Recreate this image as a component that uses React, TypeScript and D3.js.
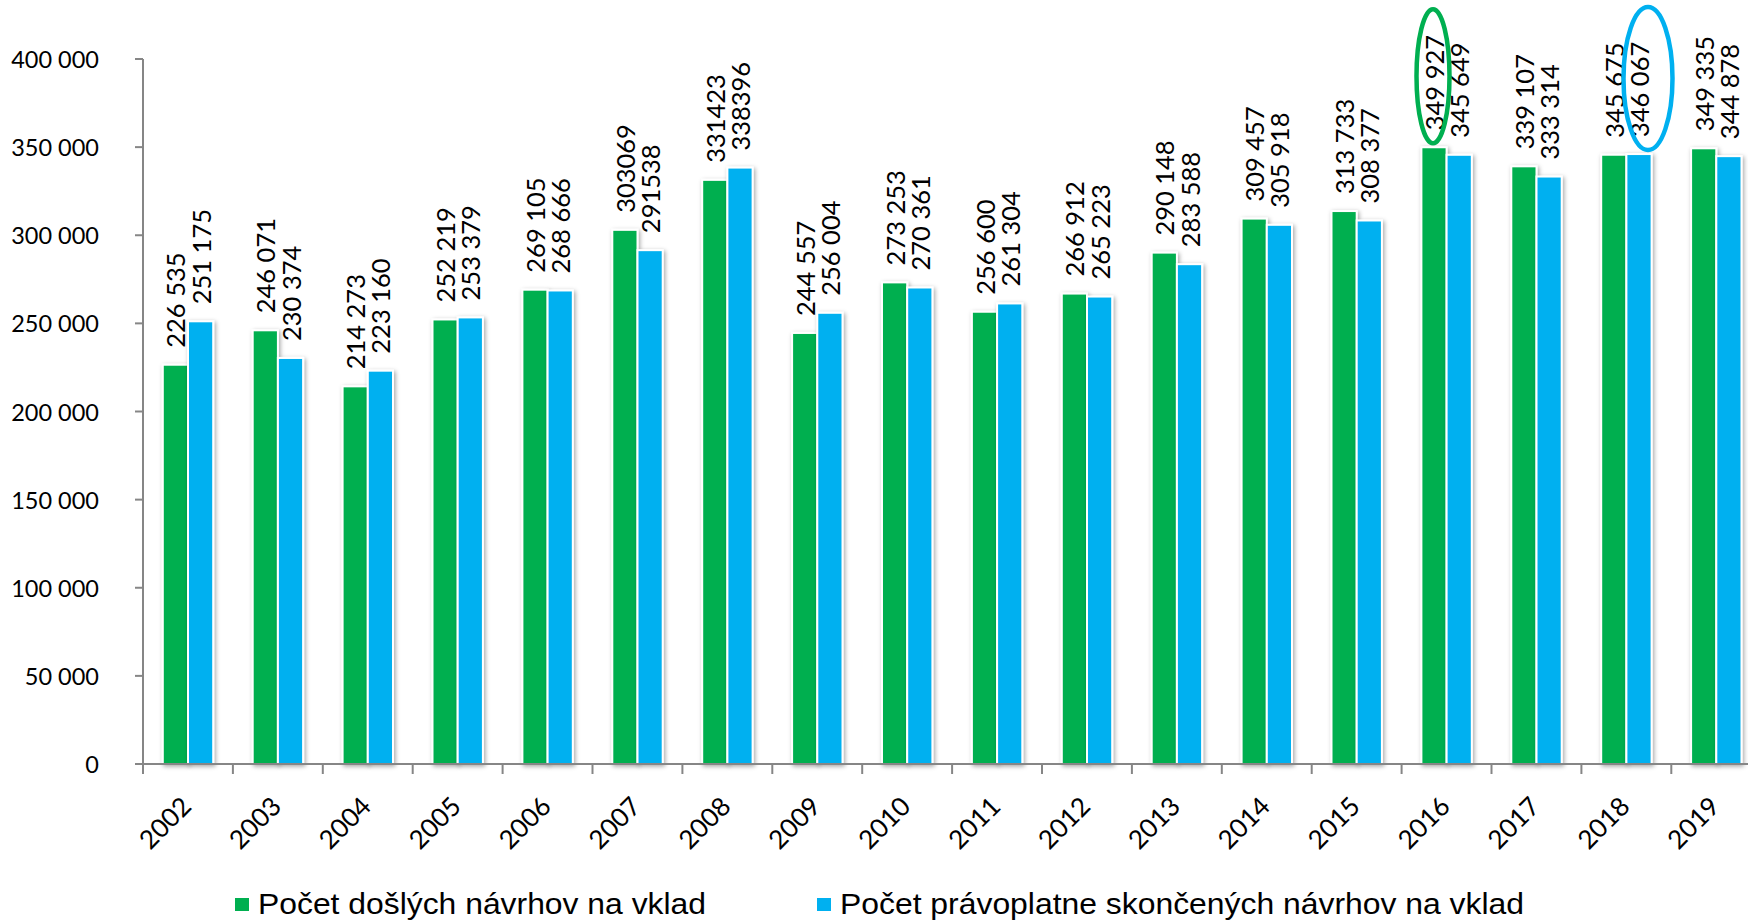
import * as d3 from "d3";

// Years on the category axis
const years = [
  "2002", "2003", "2004", "2005", "2006", "2007", "2008", "2009", "2010",
  "2011", "2012", "2013", "2014", "2015", "2016", "2017", "2018", "2019",
];

// Počet došlých návrhov na vklad
const received = [
  226535, 246071, 214273, 252219, 269105, 303069, 331423, 244557, 273253,
  256600, 266912, 290148, 309457, 313733, 349927, 339107, 345675, 349335,
];

// Počet právoplatne skončených návrhov na vklad
const finished = [
  251175, 230374, 223160, 253379, 268666, 291538, 338396, 256004, 270361,
  261304, 265223, 283588, 305918, 308377, 345649, 333314, 346067, 344878,
];

// years whose data labels were written without a thousands space
const plainLabelYears = ["2007", "2008"];

const yTicks = [0, 50000, 100000, 150000, 200000, 250000, 300000, 350000, 400000];

const seriesNames = [
  "Počet došlých návrhov na vklad",
  "Počet právoplatne skončených návrhov na vklad",
];
const seriesColors = ["#00AF50", "#00B0F0"];

// highlighted labels (ellipses)
const highlights = [
  { year: "2016", series: 0, color: "#00AF50" },
  { year: "2018", series: 1, color: "#00B0F0" },
];

const W = 1748;
const H = 922;
const axisX = 143;
const step = 89.9;

const fmtSpace = (v: number) => d3.format(",")(v).replace(/,/g, " ");

export default function App() {
  const x = d3
    .scaleBand<string>()
    .domain(years)
    .range([axisX, axisX + step * years.length]);
  const inner = d3
    .scaleBand<number>()
    .domain([0, 1])
    .range([19.8, 70.2]);
  const y = d3.scaleLinear().domain([0, 400000]).range([764, 59]);

  const series = [received, finished];
  const axisColor = "#868686";
  const numFont = "Lato, 'Open Sans', sans-serif";

  return (
    <div style={{ position: "absolute", left: 0, top: 0 }}>
      <svg width={W} height={H} style={{ display: "block", background: "#fff" }}>
        <defs>
          <filter id="shadow" x="-30%" y="-5%" width="160%" height="110%">
            <feDropShadow dx="1.5" dy="1.5" stdDeviation="2" floodColor="#000" floodOpacity="0.35" />
          </filter>
        </defs>

        {/* bars */}
        {series.map((vals, si) => (
          <g key={si} filter="url(#shadow)">
            {vals.map((v, i) => (
              <rect
                key={years[i]}
                x={(x(years[i]) ?? 0) + (inner(si) ?? 0)}
                y={y(v)}
                width={inner.bandwidth()}
                height={y(0) - y(v)}
                fill={seriesColors[si]}
                stroke="#fff"
                strokeWidth={2}
              />
            ))}
          </g>
        ))}

        {/* y axis */}
        <line x1={axisX} x2={axisX} y1={y(400000)} y2={y(0)} stroke={axisColor} strokeWidth={2} />
        {yTicks.map((t) => (
          <g key={t}>
            <line x1={axisX - 8} x2={axisX} y1={y(t)} y2={y(t)} stroke={axisColor} strokeWidth={2} />
            <text
              x={99}
              y={y(t)}
              textAnchor="end"
              dominantBaseline="central"
              fontFamily={numFont}
              fontSize={23.5}
              fill="#000"
            >
              {fmtSpace(t)}
            </text>
          </g>
        ))}

        {/* x axis */}
        <line x1={axisX - 8} x2={W} y1={y(0)} y2={y(0)} stroke={axisColor} strokeWidth={2} />
        {years.map((yr) => (
          <line
            key={yr}
            x1={x(yr) ?? 0}
            x2={x(yr) ?? 0}
            y1={y(0)}
            y2={y(0) + 10}
            stroke={axisColor}
            strokeWidth={2}
          />
        ))}
        {years.map((yr) => {
          const cx = (x(yr) ?? 0) + x.bandwidth() / 2 + 5;
          return (
            <text
              key={yr}
              transform={`translate(${cx},808) rotate(-45)`}
              textAnchor="end"
              fontFamily={numFont}
              fontSize={26}
              fill="#000"
            >
              {yr}
            </text>
          );
        })}

        {/* data labels */}
        {series.map((vals, si) =>
          vals.map((v, i) => {
            const cx = (x(years[i]) ?? 0) + (inner(si) ?? 0) + inner.bandwidth() / 2;
            const label = plainLabelYears.includes(years[i]) ? String(v) : fmtSpace(v);
            return (
              <text
                key={`${si}-${i}`}
                transform={`translate(${cx},${y(v) - 17}) rotate(-90)`}
                dominantBaseline="central"
                fontFamily={numFont}
                fontSize={25.5}
                fill="#000"
              >
                {label}
              </text>
            );
          })
        )}

        {/* highlight ellipses */}
        {highlights.map((h) => {
          const i = years.indexOf(h.year);
          const v = series[h.series][i];
          const cx = (x(h.year) ?? 0) + (inner(h.series) ?? 0) + inner.bandwidth() / 2;
          const bottom = y(v) - 4;
          const ry = h.series === 0 ? 67 : 71.5;
          const rx = h.series === 0 ? 16.5 : 24.5;
          const dx = h.series === 0 ? -1 : 9;
          return (
            <ellipse
              key={h.year}
              cx={cx + dx}
              cy={bottom - ry}
              rx={rx}
              ry={ry}
              fill="none"
              stroke={h.color}
              strokeWidth={4.5}
            />
          );
        })}

        {/* legend */}
        <rect x={235} y={898} width={14} height={13} fill={seriesColors[0]} />
        <text
          x={258}
          y={914}
          fontFamily="'Liberation Sans', Arial, sans-serif"
          fontSize={29.5}
          textLength={448}
          lengthAdjust="spacingAndGlyphs"
          fill="#000"
        >
          {seriesNames[0]}
        </text>
        <rect x={817} y={898} width={14} height={13} fill={seriesColors[1]} />
        <text
          x={840}
          y={914}
          fontFamily="'Liberation Sans', Arial, sans-serif"
          fontSize={29.5}
          textLength={684}
          lengthAdjust="spacingAndGlyphs"
          fill="#000"
        >
          {seriesNames[1]}
        </text>
      </svg>
    </div>
  );
}
